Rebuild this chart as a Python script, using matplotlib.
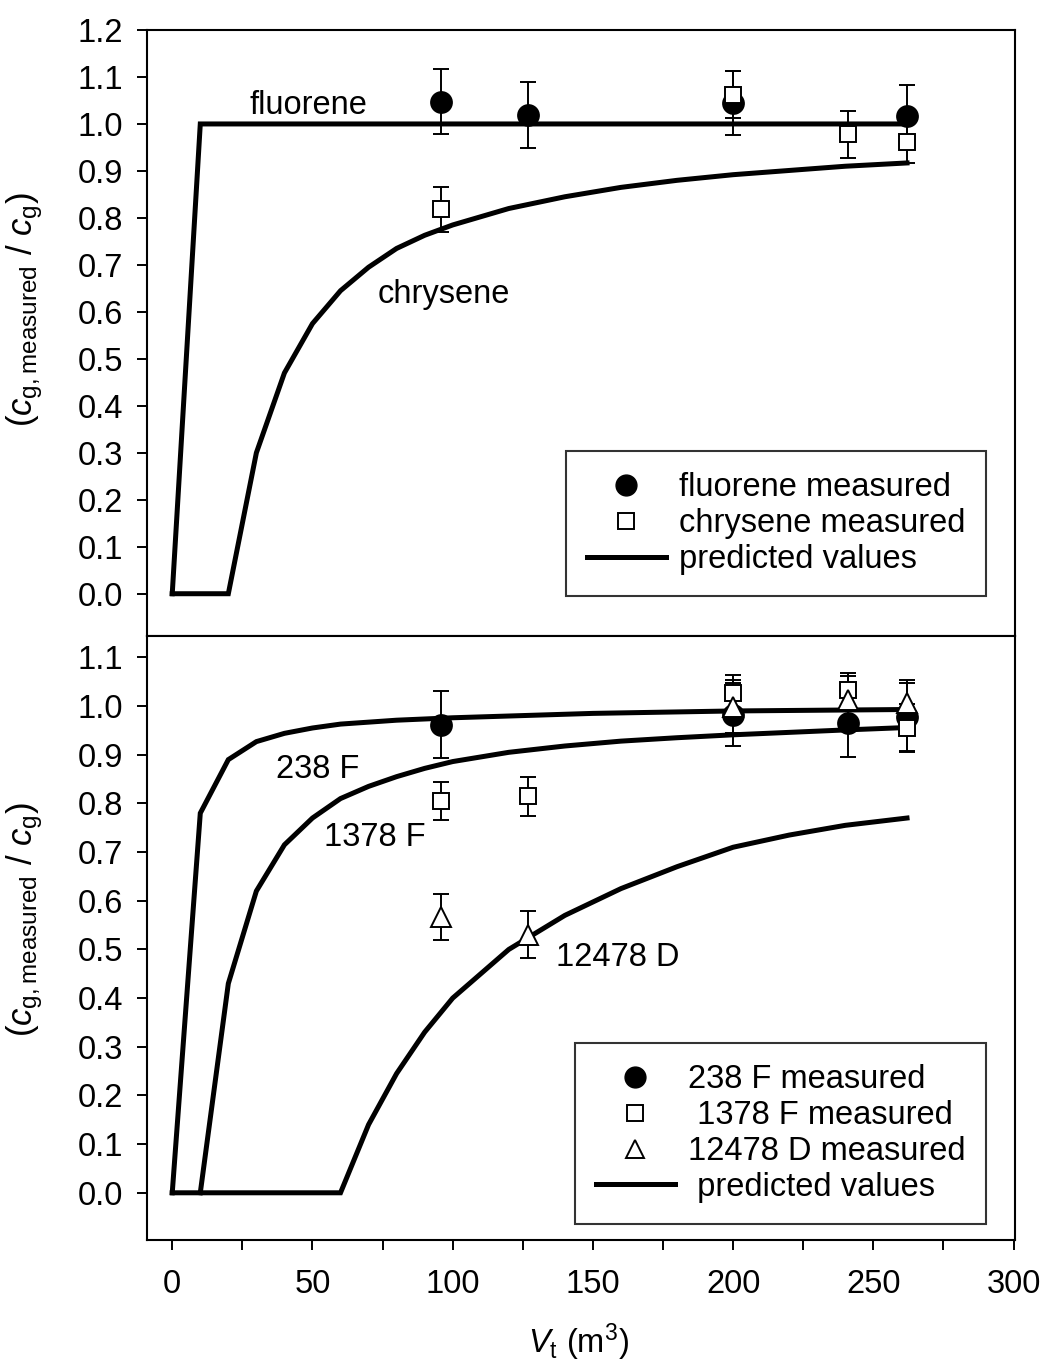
import matplotlib
matplotlib.use("Agg")
import matplotlib.pyplot as plt
from matplotlib.ticker import MultipleLocator, FormatStrFormatter

plt.rcParams["font.family"] = ["Liberation Sans", "DejaVu Sans"]
plt.rcParams["mathtext.fontset"] = "custom"
plt.rcParams["mathtext.rm"] = "Liberation Sans"
plt.rcParams["mathtext.it"] = "Liberation Sans:italic"

# --- upper panel: PAHs -------------------------------------------------
fluor_pred_x = [0, 10, 262]
fluor_pred_y = [0.0, 1.0, 1.0]

chrys_pred_x = [0, 20, 30, 40, 50, 60, 70, 80, 90, 100, 120, 140, 160, 180, 200, 220, 240, 262]
chrys_pred_y = [0.0, 0.0, 0.30, 0.47, 0.575, 0.645, 0.695, 0.735, 0.763, 0.785, 0.82, 0.845,
                0.865, 0.88, 0.892, 0.901, 0.91, 0.917]

fluor_x = [96, 127, 200, 262]
fluor_y = [1.047, 1.019, 1.045, 1.016]
fluor_err = [0.069, 0.07, 0.068, 0.067]

chrys_x = [96, 200, 241, 262]
chrys_y = [0.818, 1.062, 0.978, 0.962]
chrys_err = [0.048, 0.05, 0.05, 0.045]

# --- lower panel: PCDD/Fs ----------------------------------------------
f238_pred_x = [0, 10, 20, 30, 40, 50, 60, 80, 100, 150, 200, 262]
f238_pred_y = [0.0, 0.78, 0.89, 0.927, 0.944, 0.955, 0.963, 0.971, 0.976, 0.985, 0.99, 0.993]

f1378_pred_x = [10, 20, 30, 40, 50, 60, 70, 80, 90, 100, 120, 140, 160, 180, 200, 220, 240, 262]
f1378_pred_y = [0.0, 0.43, 0.62, 0.715, 0.77, 0.81, 0.835, 0.855, 0.872, 0.886, 0.905, 0.918,
                0.928, 0.935, 0.941, 0.946, 0.951, 0.956]

d12478_pred_x = [0, 60, 70, 80, 90, 100, 120, 140, 160, 180, 200, 220, 240, 262]
d12478_pred_y = [0.0, 0.0, 0.14, 0.245, 0.33, 0.40, 0.50, 0.57, 0.625, 0.67, 0.71, 0.735,
                 0.755, 0.77]

f238_x = [96, 200, 241, 262]
f238_y = [0.962, 0.982, 0.966, 0.977]
f238_err = [0.069, 0.065, 0.07, 0.07]

f1378_x = [96, 127, 200, 241, 262]
f1378_y = [0.805, 0.815, 1.027, 1.033, 0.955]
f1378_err = [0.04, 0.04, 0.037, 0.035, 0.049]

d12478_x = [96, 127, 200, 241, 262]
d12478_y = [0.567, 0.53, 0.999, 1.012, 1.006]
d12478_err = [0.047, 0.048, 0.055, 0.05, 0.047]

FS = 23.5
LW_PRED = 3.6
YLABEL = r"($c_{\rm g,measured}$ / $c_{\rm g}$)"

W, H = 1046, 1372
fig = plt.figure(figsize=(W / 100, H / 100), dpi=100)


def fig_box(x0, y0, x1, y1):
    """pixel box (top-left origin) -> figure fraction rect"""
    return [x0 / W, 1 - y1 / H, (x1 - x0) / W, (y1 - y0) / H]


ax1 = fig.add_axes(fig_box(147, 30, 1015, 636))
ax2 = fig.add_axes(fig_box(147, 636, 1015, 1240))

mk_common = dict(ls="none", ecolor="black", elinewidth=1.4, capsize=6, capthick=1.4,
                 markeredgecolor="black", markeredgewidth=1.4, zorder=4)
circle = dict(fmt="o", ms=15, mfc="black", **mk_common)
square = dict(fmt="s", ms=12, mfc="white", **mk_common)
triangle = dict(fmt="^", ms=14, mfc="white", **mk_common)

legend_kw = dict(loc="upper left", bbox_transform=fig.transFigure, borderaxespad=0,
                 fontsize=FS, frameon=True, fancybox=False, handlelength=2.4,
                 handletextpad=0.4, labelspacing=0.15, borderpad=0.65,
                 edgecolor="black")

# upper panel
ax1.plot(fluor_pred_x, fluor_pred_y, color="black", lw=LW_PRED, zorder=2,
         solid_joinstyle="miter")
ax1.plot(chrys_pred_x, chrys_pred_y, color="black", lw=LW_PRED, zorder=2,
         solid_joinstyle="miter")
ax1.errorbar(fluor_x, fluor_y, yerr=fluor_err, **circle)
ax1.errorbar(chrys_x, chrys_y, yerr=chrys_err, **square)
ax1.text(48.5, 1.04, "fluorene", fontsize=FS, ha="center", va="center")
ax1.text(97, 0.638, "chrysene", fontsize=FS, ha="center", va="center")

h_f = ax1.plot([], [], "o", ms=15, color="black")[0]
h_c = ax1.plot([], [], "s", ms=11, mfc="white", mec="black", mew=1.4)[0]
h_p = ax1.plot([], [], color="black", lw=LW_PRED)[0]
leg1 = ax1.legend([h_f, h_c, h_p],
                  ["fluorene measured", "chrysene measured", "predicted values"],
                  bbox_to_anchor=(566 / W, 1 - 451 / H), **legend_kw)
leg1.get_frame().set_linewidth(1.5)

ax1.set_ylim(-0.09, 1.2)
ax1.set_xlim(-9, 300.5)
ax1.set_xticks([])
ax1.set_yticks([i / 10 for i in range(13)])

# lower panel
ax2.plot(f238_pred_x, f238_pred_y, color="black", lw=LW_PRED, zorder=2,
         solid_joinstyle="miter")
ax2.plot(f1378_pred_x, f1378_pred_y, color="black", lw=LW_PRED, zorder=2,
         solid_joinstyle="miter")
ax2.plot(d12478_pred_x, d12478_pred_y, color="black", lw=LW_PRED, zorder=2,
         solid_joinstyle="miter")
ax2.errorbar(f238_x, f238_y, yerr=f238_err, **circle)
ax2.errorbar(f1378_x, f1378_y, yerr=f1378_err, **square)
ax2.errorbar(d12478_x, d12478_y, yerr=d12478_err, **triangle)
ax2.text(52, 0.869, "238 F", fontsize=FS, ha="center", va="center")
ax2.text(72.4, 0.729, "1378 F", fontsize=FS, ha="center", va="center")
ax2.text(159, 0.483, "12478 D", fontsize=FS, ha="center", va="center")

h_238 = ax2.plot([], [], "o", ms=15, color="black")[0]
h_1378 = ax2.plot([], [], "s", ms=11, mfc="white", mec="black", mew=1.4)[0]
h_12478 = ax2.plot([], [], "^", ms=13, mfc="white", mec="black", mew=1.4)[0]
h_p2 = ax2.plot([], [], color="black", lw=LW_PRED)[0]
leg2 = ax2.legend([h_238, h_1378, h_12478, h_p2],
                  ["238 F measured", " 1378 F measured", "12478 D measured",
                   " predicted values"],
                  bbox_to_anchor=(575 / W, 1 - 1043 / H), **legend_kw)
leg2.get_frame().set_linewidth(1.5)

ax2.set_ylim(-0.097, 1.144)
ax2.set_xlim(-9, 300.5)
ax2.set_yticks([i / 10 for i in range(12)])
ax2.xaxis.set_major_locator(MultipleLocator(50))
ax2.xaxis.set_minor_locator(MultipleLocator(25))
ax2.set_xlabel(r"$V_{\rm t}$ (m$^{3}$)", fontsize=FS)
ax2.xaxis.set_label_coords(0.497, -0.135)

for ax in (ax1, ax2):
    ax.yaxis.set_major_formatter(FormatStrFormatter("%.1f"))
    ax.tick_params(axis="both", which="both", direction="out", width=1.4,
                   labelsize=FS)
    ax.tick_params(axis="y", length=7, pad=10)
    ax.tick_params(axis="x", which="both", length=7, pad=14)
    for sp in ax.spines.values():
        sp.set_linewidth(1.5)
    ax.set_ylabel(YLABEL, fontsize=25)

ax1.yaxis.set_label_coords(-0.118, 0.538)
ax2.yaxis.set_label_coords(-0.118, 0.53)

fig.savefig("out.png", dpi=100, facecolor="white")
